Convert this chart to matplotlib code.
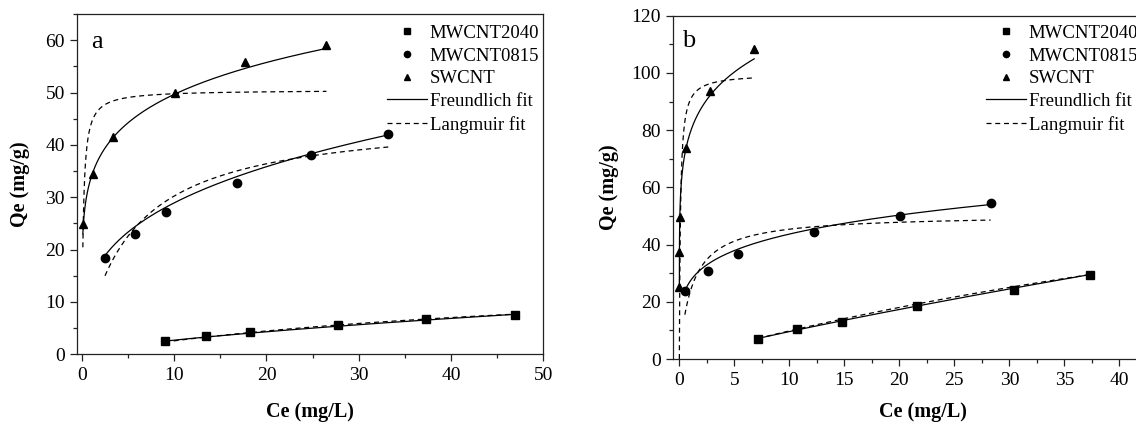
import numpy as np
import matplotlib.pyplot as plt
from matplotlib.ticker import MultipleLocator

plt.rcParams['font.family'] = ['Liberation Serif', 'DejaVu Serif']

# ---- panel a data (Ce in mg/L, Qe in mg/g) ----
a_ce_2040 = [9.0, 13.5, 18.2, 27.8, 37.3, 46.9]
a_qe_2040 = [2.6, 3.5, 4.3, 5.6, 6.7, 7.6]
a_ce_0815 = [2.5, 5.8, 9.1, 16.8, 24.8, 33.2]
a_qe_0815 = [18.4, 22.9, 27.1, 32.7, 38.0, 42.0]
a_ce_sw = [0.1, 1.2, 3.4, 10.1, 17.7, 26.5]
a_qe_sw = [24.8, 34.5, 41.6, 50.0, 55.9, 59.1]

# ---- panel b data ----
b_ce_2040 = [7.15, 10.7, 14.8, 21.6, 30.4, 37.3]
b_qe_2040 = [7.0, 10.5, 12.8, 18.5, 24.2, 29.4]
b_ce_0815 = [0.5, 2.6, 5.3, 12.2, 20.1, 28.3]
b_qe_0815 = [23.7, 30.9, 36.6, 44.5, 50.0, 54.6]
b_ce_sw = [0.0005, 0.006, 0.04, 0.6, 2.75, 6.8]
b_qe_sw = [25.0, 37.5, 49.7, 73.6, 93.8, 108.2]

# fitted isotherm parameters estimated from the curves: [MWCNT2040, MWCNT0815, SWCNT]
# Freundlich: q = Kf * C**m ; Langmuir: q = qm * KL * C / (1 + KL * C)
a_kf = [0.575, 14.2, 33.8]
a_m = [0.672, 0.309, 0.167]
a_qm = [16.5, 45.7, 50.5]
a_kl = [0.0185, 0.1954, 6.8]
a_lang_start = [9.0, 2.5, 0.1]

b_kf = [1.341, 27.3, 79.3]
b_m = [0.854, 0.204, 0.146]
b_qm = [111.0, 50.5, 99.7]
b_kl = [0.0097, 0.885, 10.0]
b_lang_start = [7.15, 0.5, 0.0]

labels = ['MWCNT2040', 'MWCNT0815', 'SWCNT']
markers = ['s', 'o', '^']


def cgrid(c0, c1):
    if c0 <= 0:
        return np.concatenate([[0.0], np.geomspace(1e-4, c1, 300)])
    return np.unique(np.concatenate([np.geomspace(c0, c1, 200), np.linspace(c0, c1, 200)]))


def draw(ax, ces, qes, kf, m, qm, kl, lstart):
    for i in range(3):
        ax.plot(ces[i], qes[i], linestyle='none', marker=markers[i], color='black',
                markersize=6, label=labels[i], zorder=3)
    for i in range(3):
        c = cgrid(min(ces[i]), max(ces[i]))
        ax.plot(c, kf[i] * c ** m[i], color='black', lw=0.9,
                label='Freundlich fit' if i == 0 else None)
        c = cgrid(lstart[i], max(ces[i]))
        ax.plot(c, qm[i] * kl[i] * c / (1 + kl[i] * c), color='black', lw=0.9,
                dashes=(4, 3), label='Langmuir fit' if i == 0 else None)


def style(ax, xpad, ypad):
    for s in ax.spines.values():
        s.set_linewidth(0.9)
        s.set_color('#222222')
    ax.tick_params(which='both', direction='out', top=False, right=False,
                   labelsize=14, width=0.9, color='#222222')
    ax.tick_params(which='major', length=5, pad=4)
    ax.tick_params(which='minor', length=3)
    ax.set_xlabel('Ce (mg/L)', fontsize=14.5, fontweight='bold', labelpad=xpad)
    ax.set_ylabel('Qe (mg/g)', fontsize=14.5, fontweight='bold', labelpad=ypad)


fig = plt.figure(figsize=(11.36, 4.24), dpi=100)

ax1 = fig.add_axes([0.06805, 0.16439, 0.41021, 0.80259])
draw(ax1, [a_ce_2040, a_ce_0815, a_ce_sw], [a_qe_2040, a_qe_0815, a_qe_sw],
     a_kf, a_m, a_qm, a_kl, a_lang_start)
ax1.set_xlim(-0.5, 50)
ax1.set_ylim(0, 65)
ax1.xaxis.set_major_locator(MultipleLocator(10))
ax1.xaxis.set_minor_locator(MultipleLocator(5))
ax1.yaxis.set_major_locator(MultipleLocator(10))
ax1.yaxis.set_minor_locator(MultipleLocator(5))
style(ax1, 13, 11)
ax1.text(0.03, 0.918, 'a', transform=ax1.transAxes, fontsize=19, va='center', ha='left')
ax1.legend(loc='upper left', bbox_to_anchor=(0.6646, 0.9686), frameon=False,
           fontsize=13.5, borderpad=0, borderaxespad=0, handlelength=2.13,
           handletextpad=0.16, labelspacing=0.3, markerscale=0.75)

ax2 = fig.add_axes([0.5927, 0.1533, 0.44005, 0.8097])
draw(ax2, [b_ce_2040, b_ce_0815, b_ce_sw], [b_qe_2040, b_qe_0815, b_qe_sw],
     b_kf, b_m, b_qm, b_kl, b_lang_start)
ax2.set_xlim(-0.55, 44.9)
ax2.set_ylim(0, 120)
ax2.xaxis.set_major_locator(MultipleLocator(5))
ax2.xaxis.set_minor_locator(MultipleLocator(2.5))
ax2.yaxis.set_major_locator(MultipleLocator(20))
ax2.yaxis.set_minor_locator(MultipleLocator(10))
style(ax2, 10, 9)
ax2.text(0.017, 0.926, 'b', transform=ax2.transAxes, fontsize=19, va='center', ha='left')
ax2.legend(loc='upper left', bbox_to_anchor=(0.6255, 0.9738), frameon=False,
           fontsize=13.5, borderpad=0, borderaxespad=0, handlelength=2.13,
           handletextpad=0.16, labelspacing=0.3, markerscale=0.75)

fig.savefig('out.png', dpi=100)
